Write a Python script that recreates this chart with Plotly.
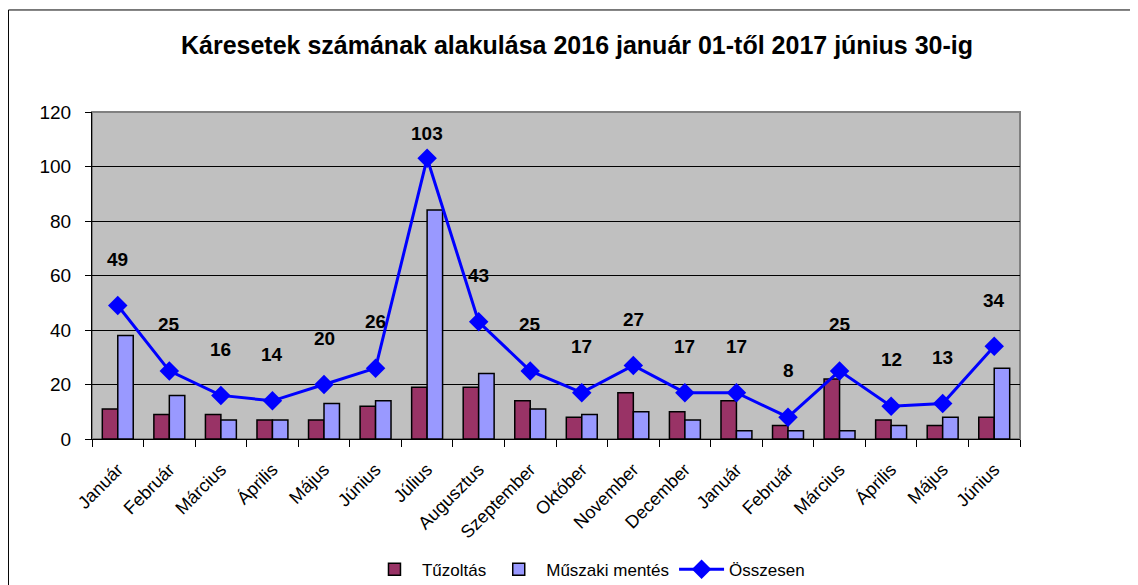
import plotly.graph_objects as go

months = ["Január", "Február", "Március", "Április", "Május", "Június",
          "Július", "Augusztus", "Szeptember", "Október", "November", "December",
          "Január", "Február", "Március", "Április", "Május", "Június"]
tuzoltas = [11, 9, 9, 7, 7, 12, 19, 19, 14, 8, 17, 10, 14, 5, 22, 7, 5, 8]
muszaki = [38, 16, 7, 7, 13, 14, 84, 24, 11, 9, 10, 7, 3, 3, 3, 5, 8, 26]
osszesen = [49, 25, 16, 14, 20, 26, 103, 43, 25, 17, 27, 17, 17, 8, 25, 12, 13, 34]

x = list(range(len(months)))
FONT = "Liberation Sans, Arial, sans-serif"

fig = go.Figure()
fig.add_trace(go.Bar(x=x, y=tuzoltas, name="Tűzoltás",
                     marker=dict(color="#993366", line=dict(color="black", width=1.5))))
fig.add_trace(go.Bar(x=x, y=muszaki, name="Műszaki mentés",
                     marker=dict(color="#9999FF", line=dict(color="black", width=1.5))))
fig.add_trace(go.Scatter(x=x, y=osszesen, name="Összesen", mode="lines+markers",
                         line=dict(color="#0000FF", width=3),
                         marker=dict(symbol="diamond", size=15, color="#0000FF")))

for xi, v in zip(x, osszesen):
    fig.add_annotation(x=xi, y=min(v + 17, 112), text=f"<b>{v}</b>", showarrow=False,
                       font=dict(family=FONT, size=19, color="black"))

# outer chart border
fig.add_shape(type="rect", xref="paper", yref="paper",
              x0=-0.0900, x1=1.2, y0=-0.7, y1=1.312,
              line=dict(color="black", width=1))

fig.update_layout(
    width=1138, height=585,
    margin=dict(l=84, r=126, t=104, b=154, autoexpand=False),
    paper_bgcolor="white", plot_bgcolor="#C0C0C0",
    barmode="group", bargap=0.4, bargroupgap=0,
    title=dict(text="<b>Káresetek számának alakulása 2016 január 01-től 2017 június 30-ig</b>",
               x=0.5, xanchor="center", xref="container", y=0.937, yanchor="middle",
               font=dict(family=FONT, size=25, color="black")),
    font=dict(family=FONT, color="black"),
    showlegend=True,
    legend=dict(orientation="h", x=0.535, xanchor="center", y=-0.40, yanchor="middle",
                font=dict(family=FONT, size=17), bgcolor="rgba(0,0,0,0)",
                itemwidth=45, tracegroupgap=0),
)
fig.update_xaxes(range=[-0.5, len(months) - 0.5], tickmode="array", tickvals=x, ticktext=months,
                 tickangle=-45, ticks="", showgrid=False, tickfont=dict(family=FONT, size=18),
                 ticklabelstandoff=12,
                 showline=True, linecolor="black", linewidth=1, mirror=False,
                 minor=dict(tick0=0.5, dtick=1, ticks="outside", ticklen=7, tickcolor="black",
                            showgrid=False))
fig.update_yaxes(range=[0, 120], dtick=20, showgrid=True, gridcolor="black", gridwidth=1,
                 ticks="outside", ticklen=6, tickcolor="black",
                 tickfont=dict(family=FONT, size=19), ticklabelstandoff=10,
                 showline=True, linecolor="black", linewidth=1, zeroline=False)
# plot area gray border
fig.add_shape(type="rect", xref="paper", yref="paper", x0=0, x1=1, y0=0, y1=1,
              line=dict(color="#808080", width=2), layer="below")

fig.write_html("out.html")
